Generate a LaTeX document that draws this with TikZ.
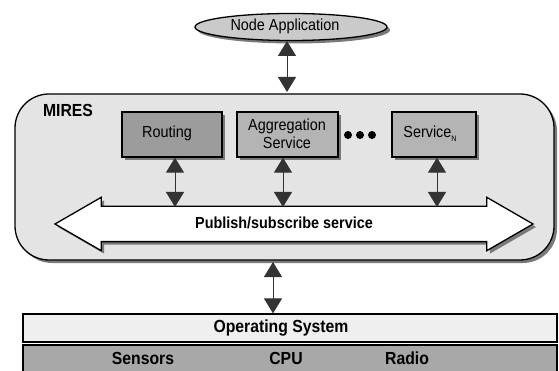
\documentclass[tikz,border=0pt]{standalone}
\usepackage{fontspec}
\setmainfont[FakeStretch=0.9]{Liberation Sans}
\usetikzlibrary{shapes.geometric,shapes.arrows,shadows,arrows.meta}

\definecolor{appfill}{HTML}{CACACA}
\definecolor{miresfill}{HTML}{E4E4E4}
\definecolor{routefill}{HTML}{9C9C9C}
\definecolor{svcfill}{HTML}{B4B4B4}
\definecolor{osfill}{HTML}{EFEFEF}
\definecolor{hwfill}{HTML}{A8A8A8}
\definecolor{shade}{HTML}{7A7A7A}
\definecolor{shaft}{HTML}{333333}

\tikzset{
  txt/.style={font=\fontsize{16}{18}\selectfont, inner sep=0pt},
  txtb/.style={font=\fontsize{17.5}{19}\selectfont\bfseries, inner sep=0pt},
  shad/.style={drop shadow={shadow xshift=3pt, shadow yshift=-3pt, fill=shade, opacity=1}},
  blk/.style={draw=black, line width=1.3pt, inner sep=0pt},
  svcbox/.style={blk, shad, rectangle, minimum height=45pt},
  biarrow/.style={draw=shaft, line width=1pt,
    {Triangle[width=18pt,length=15pt]}-{Triangle[width=18pt,length=15pt]}},
}

\begin{document}
\begin{tikzpicture}[x=1pt,y=-1pt]
\useasboundingbox (0,0) rectangle (559,371);
\clip (0,0) rectangle (559,371);

% application on top
\node[blk, shad, ellipse, fill=appfill, minimum width=192pt, minimum height=27pt]
  (app) at (291,27) {};
\node[txt] (applbl) at (285,26) {Node Application};

% middleware container
\node[blk, shad, rectangle, rounded corners=34pt, fill=miresfill,
  minimum width=539pt, minimum height=166pt] (mires) at (284.5,177) {};
\node[txtb] (mireslbl) at (68,110) {MIRES};

% services
\node[svcbox, fill=routefill, minimum width=100pt] (routing) at (172,134.5) {};
\node[txt] (routinglbl) at (167,133) {Routing};
\node[svcbox, fill=svcfill, minimum width=101pt] (aggr) at (287.5,134.5) {};
\node[txt, align=center] (aggrlbl) at (287,134) {Aggregation\\Service};
\node[svcbox, fill=svcfill, minimum width=84pt] (svcn) at (434,134.5) {};
\node[txt] (svcnlbl) at (430,134) {Service\raisebox{-0.45ex}{\fontsize{8}{8}\selectfont N}};

% ellipsis between the services
\foreach \i/\x in {1/348,2/360,3/372}
  \node[circle, fill=black, inner sep=0pt, minimum size=8pt] (dot\i) at (\x,135) {};

% publish/subscribe bus: shaft 34pt thick, heads 9pt beyond it
\node[blk, shad, double arrow, fill=white, double arrow head extend=9pt,
  double arrow tip angle=60, minimum height=478pt]
  (bus) at (294,224) {\rule{0pt}{34pt}};
\node[font=\fontsize{16}{18}\selectfont\bfseries, inner sep=0pt] (buslbl)
  at (284,223) {Publish/subscribe service};
\coordinate (bustop) at (0,207);

% operating system and hardware layers
\node[blk, rectangle, fill=osfill, minimum width=534pt, minimum height=28pt,
  line width=1.2pt] (os) at (290,328) {};
\node[txtb] (oslbl) at (281,328) {Operating System};
\node[blk, rectangle, fill=hwfill, minimum width=534pt, minimum height=32pt,
  line width=1.2pt] (hw) at (290,361) {};
\node[txtb] (sensors) at (143,358) {Sensors};
\node[txtb] (cpu) at (286,358) {CPU};
\node[txtb] (radio) at (407,358) {Radio};

% connectors
\coordinate (appbot) at (287,41);
\coordinate (mirestop) at (287,92);
\draw[biarrow] (appbot) -- (mirestop);
\draw[biarrow] ([xshift=3pt]routing.south) -- ([xshift=3pt]routing.south |- bustop);
\draw[biarrow] ([xshift=-4.5pt]aggr.south) -- ([xshift=-4.5pt]aggr.south |- bustop);
\draw[biarrow] ([xshift=3pt]svcn.south) -- ([xshift=3pt]svcn.south |- bustop);
\coordinate (miresbot) at (273,262);
\draw[biarrow] (miresbot) -- (miresbot |- os.north);
\end{tikzpicture}
\end{document}
